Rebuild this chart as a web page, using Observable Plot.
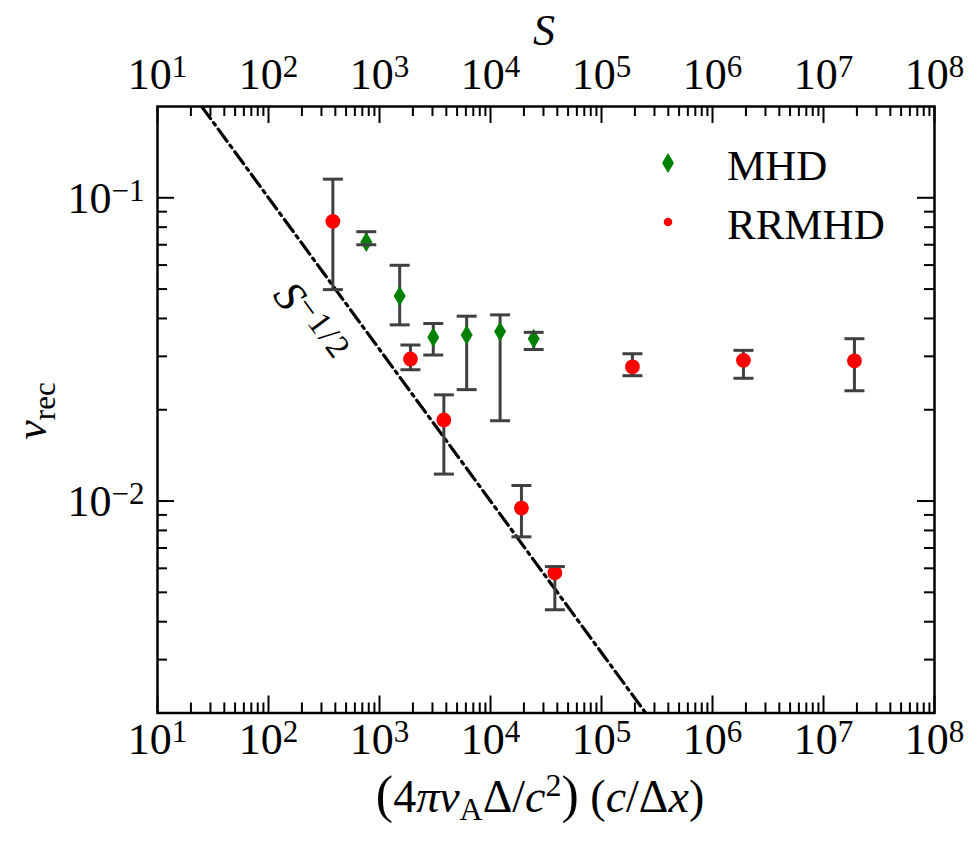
<!DOCTYPE html>
<html><head><meta charset="utf-8">
<script src="https://cdn.jsdelivr.net/npm/d3@7"></script>
<script src="https://cdn.jsdelivr.net/npm/@observablehq/plot@0.6"></script>
<style>body{margin:0;background:#fff}</style>
</head><body><div id="chart"></div>
<script>
// ---- data ----
const rrS  = [380, 1900, 3800, 19000, 38000, 190000, 1900000, 19000000];
const rrV  = [0.0836, 0.0294, 0.0185, 0.00948, 0.0058, 0.0277, 0.0291, 0.0290];
const rrLo = [0.0498, 0.0271, 0.01227, 0.00762, 0.00438, 0.0259, 0.0254, 0.0231];
const rrHi = [0.1152, 0.0327, 0.0224, 0.01125, 0.00608, 0.0306, 0.0314, 0.0343];

const mhdS  = [760, 1520, 3050, 6100, 12200, 24500];
const mhdV  = [0.0715, 0.0474, 0.0347, 0.0353, 0.0362, 0.0343];
const mhdLo = [0.0700, 0.0381, 0.0303, 0.0233, 0.0184, 0.0316];
const mhdHi = [0.0773, 0.0599, 0.0385, 0.0407, 0.0411, 0.0360];

// S^{-1/2} reference line endpoints
const lineS = [25, 250000];
const lineV = [0.2, 0.002];

const xTicks = [1e1, 1e2, 1e3, 1e4, 1e5, 1e6, 1e7, 1e8];
const xTickLabels = ["10^1", "10^2", "10^3", "10^4", "10^5", "10^6", "10^7", "10^8"];
const yTicks = [0.01, 0.1];
const yTickLabels = ["10^\u22122", "10^\u22121"];
const xMinor = [];
for (let e = 1; e < 8; e++) for (let k = 2; k <= 9; k++) xMinor.push(k * 10 ** e);
const yMinor = [0.003, 0.004, 0.005, 0.006, 0.007, 0.008, 0.009,
                0.02, 0.03, 0.04, 0.05, 0.06, 0.07, 0.08, 0.09];

// ---- layout ----
const W = 977, H = 842, mt = 106, mb = 129.5, ml = 157, mr = 43;
const pw = W - ml - mr, ph = H - mt - mb;
const MAJ = 17, MIN = 10;
const FONT = "'Liberation Serif', 'DejaVu Serif', serif";
const FS = 44;
const SUP = 31;
const BAR = "#404040";

const rr = rrS.map((s, i) => ({s, v: rrV[i], lo: rrLo[i], hi: rrHi[i]}));
const mhd = mhdS.map((s, i) => ({s, v: mhdV[i], lo: mhdLo[i], hi: mhdHi[i]}));
const bars = rr.concat(mhd);
const line = lineS.map((s, i) => ({s, v: lineV[i]}));

const capSym = {draw(ctx) { ctx.moveTo(-10, 0); ctx.lineTo(10, 0); }};
const diamondSym = {draw(ctx) { ctx.moveTo(0, -10); ctx.lineTo(6, 0); ctx.lineTo(0, 10); ctx.lineTo(-6, 0); ctx.closePath(); }};

const tickStyle = {stroke: "black", strokeWidth: 2};

const chart = Plot.plot({
  width: W, height: H,
  marginTop: mt, marginBottom: mb, marginLeft: ml, marginRight: mr,
  style: {fontFamily: FONT, fontSize: FS + "px", background: "white", color: "black"},
  x: {type: "log", domain: [10, 1e8], axis: null},
  y: {type: "log", domain: [0.002, 0.2], axis: null},
  marks: [
    // ticks, all four sides, inward
    Plot.tickX(xTicks, {x: d => d, insetTop: ph - MAJ, ...tickStyle}),
    Plot.tickX(xMinor, {x: d => d, insetTop: ph - MIN, ...tickStyle}),
    Plot.tickX(xTicks, {x: d => d, insetBottom: ph - MAJ, ...tickStyle}),
    Plot.tickX(xMinor, {x: d => d, insetBottom: ph - MIN, ...tickStyle}),
    Plot.tickY(yTicks, {y: d => d, insetRight: pw - MAJ, ...tickStyle}),
    Plot.tickY(yMinor, {y: d => d, insetRight: pw - MIN, ...tickStyle}),
    Plot.tickY(yTicks, {y: d => d, insetLeft: pw - MAJ, ...tickStyle}),
    Plot.tickY(yMinor, {y: d => d, insetLeft: pw - MIN, ...tickStyle}),
    // tick labels
    Plot.text(xTicks, {x: d => d, text: (d, i) => xTickLabels[i], frameAnchor: "bottom", lineAnchor: "bottom", dy: 41, fontSize: FS, fill: "black", className: "suplab"}),
    Plot.text(xTicks, {x: d => d, text: (d, i) => xTickLabels[i], frameAnchor: "top", lineAnchor: "bottom", dy: -18, fontSize: FS, fill: "black", className: "suplab"}),
    Plot.text(yTicks, {y: d => d, text: (d, i) => yTickLabels[i], frameAnchor: "left", textAnchor: "end", lineAnchor: "bottom", dx: -13, dy: 15, fontSize: FS, fill: "black", className: "suplab"}),
    // S^-1/2 line
    Plot.line(line, {x: "s", y: "v", stroke: "black", strokeWidth: 3.2, strokeDasharray: "15,5,3,5", clip: true}),
    // error bars
    Plot.ruleX(bars, {x: "s", y1: "lo", y2: "hi", stroke: BAR, strokeWidth: 3}),
    // markers
    Plot.dot(mhd, {x: "s", y: "v", symbol: diamondSym, fill: "green", stroke: "none"}),
    Plot.dot(rr, {x: "s", y: "v", r: 7.4, fill: "red", stroke: "none"}),
    // caps
    Plot.dot(bars, {x: "s", y: "lo", symbol: capSym, fill: "none", stroke: BAR, strokeWidth: 3}),
    Plot.dot(bars, {x: "s", y: "hi", symbol: capSym, fill: "none", stroke: BAR, strokeWidth: 3}),
    Plot.frame({stroke: "black", strokeWidth: 2.5})
  ]
});
document.getElementById("chart").appendChild(chart);

const svg = d3.select(chart);

// superscript tick labels
svg.selectAll(".suplab text").each(function () {
  const parts = this.textContent.split("^");
  if (parts.length < 2) return;
  const el = d3.select(this);
  el.text(null);
  el.append("tspan").text(parts[0]);
  el.append("tspan").attr("dy", "-12px").attr("font-size", SUP + "px").text(parts[1]);
});

// rich text helper: parts = [{t, it, shift, size, ls}]
function rich(sel, parts) {
  let cur = 0;
  for (const p of parts) {
    const sh = p.shift || 0;
    const ts = sel.append("tspan").text(p.t);
    if (sh !== cur) ts.attr("dy", (sh - cur) + "px");
    if (p.it) ts.attr("font-style", "italic");
    if (p.size) ts.attr("font-size", p.size + "px");
    if (p.ls) ts.attr("letter-spacing", p.ls + "px");
    cur = sh;
  }
  return sel;
}

const T = (x, y, anchor = "start", fs = FS) => svg.append("text").attr("x", x).attr("y", y)
  .attr("text-anchor", anchor).attr("font-family", FONT).attr("font-size", fs)
  .attr("fill", "black").attr("stroke", "none");

// top axis label S
rich(T(544, 45, "middle"), [{t: "S", it: true}]);

// bottom axis label
rich(T(540, 812, "middle", 46), [
  {t: "(", size: 52}, {t: "4"}, {t: "\u03c0", it: true}, {t: "v", it: true},
  {t: "A", shift: 8, size: 32}, {t: "\u0394/"}, {t: "c", it: true},
  {t: "2", shift: -16, size: 32}, {t: ")", size: 52}, {t: " ("},
  {t: "c", it: true}, {t: "/\u0394"}, {t: "x", it: true}, {t: ")"}
]);

// y axis label
rich(svg.append("g").attr("transform", "translate(46,411) rotate(-90)")
  .append("text").attr("text-anchor", "middle").attr("font-family", FONT)
  .attr("font-size", FS).attr("fill", "black").attr("stroke", "none"),
  [{t: "v", it: true}, {t: "rec", shift: 9, size: 31}]);

// S^{-1/2} annotation along the line
rich(svg.append("g").attr("transform", "translate(311,323) rotate(53.8)")
  .append("text").attr("text-anchor", "middle").attr("dy", "0.35em")
  .attr("font-family", FONT).attr("font-size", 44).attr("fill", "black").attr("stroke", "none"),
  [{t: "S", it: true}, {t: "\u22121/2", shift: -12, size: 33, ls: 2}]);

// legend
svg.append("path").attr("d", "M668,153 L674,163 L668,173 L662,163 Z").attr("fill", "green");
svg.append("circle").attr("cx", 668).attr("cy", 222).attr("r", 4.3).attr("fill", "red");
T(727, 180, "start", 43).text("MHD");
T(727, 239, "start", 43).text("RRMHD");
</script>
</body></html>
